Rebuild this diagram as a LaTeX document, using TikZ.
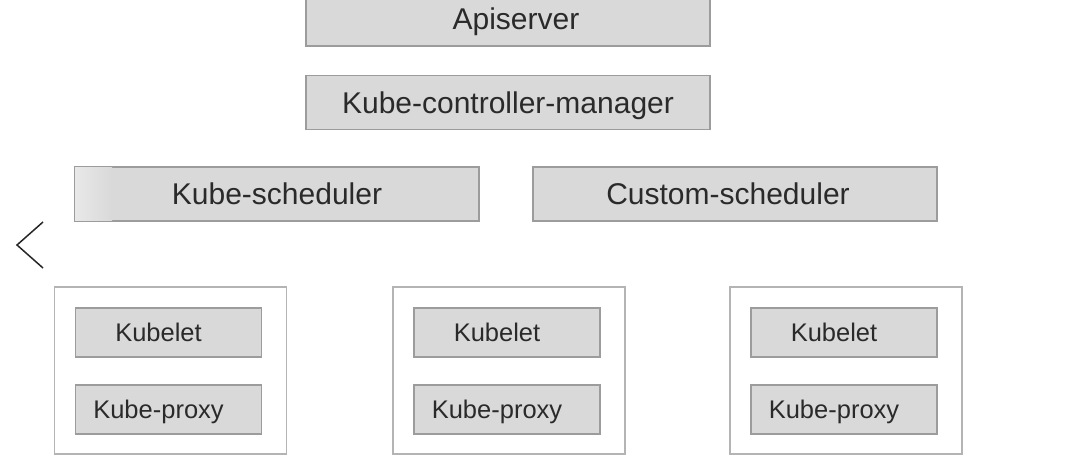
\documentclass[tikz,border=0pt]{standalone}
\usepackage{fontspec}
\setmainfont{Liberation Sans}
\begin{document}
\begin{tikzpicture}[x=1pt,y=-1pt,
  comp/.style={draw=boxline,fill=boxfill,line width=1.6pt,inner sep=0pt,
    minimum width=404pt,minimum height=54pt,font=\fontsize{30}{32}\selectfont,
    text=textgray,text height=21.5pt,text depth=0pt},
  agent/.style={draw=boxline,fill=boxfill,line width=1.6pt,inner sep=0pt,
    minimum width=186pt,minimum height=49pt,font=\fontsize{25.5}{28}\selectfont,
    text=textgray,text height=18.3pt,text depth=0pt},
  hostbox/.style={draw=hostline,fill=white,line width=1.4pt,inner sep=0pt,
    minimum width=232pt,minimum height=167pt},
  back/.style={line width=1.5pt,draw=black!85}]
\definecolor{boxfill}{HTML}{D9D9D9}
\definecolor{boxline}{HTML}{9C9C9C}
\definecolor{hostline}{HTML}{B4B4B4}
\definecolor{textgray}{HTML}{2A2A2A}
\useasboundingbox (0,0) rectangle (1080,471);
% control plane
\node[comp] (api) at (508,19) {\hspace*{16pt}Apiserver};
\node[comp] (kcm) at (508,102.5) {Kube-controller-manager};
\node[comp] (ks) at (277,194) {};
% soft light band at the left end of the scheduler box
\shade[left color=white!40!boxfill,right color=boxfill]
  ([xshift=0.9pt,yshift=-0.9pt]ks.north west) rectangle ([xshift=38pt,yshift=0.9pt]ks.south west);
\node[comp,draw=none,fill=none] at (ks) {Kube-scheduler};
\node[comp] (cs) at (735,194) {\hspace*{-14pt}Custom-scheduler};
% worker hosts
\foreach \n/\hx/\ix in {1/170.5/168.5, 2/509/507, 3/846/844}{
  \node[hostbox] (host\n) at (\hx,370.5) {};
  \node[agent] (kubelet\n) at (\ix,332.5) {\hspace*{-20pt}Kubelet};
  \node[agent] (proxy\n) at (\ix,409.5) {\hspace*{-20pt}Kube-proxy};
}
% back chevron
\coordinate (c1) at (43,222);
\coordinate (c2) at (17,245);
\coordinate (c3) at (43,268);
\draw[back] (c1) -- (c2) -- (c3);
\end{tikzpicture}
\end{document}
